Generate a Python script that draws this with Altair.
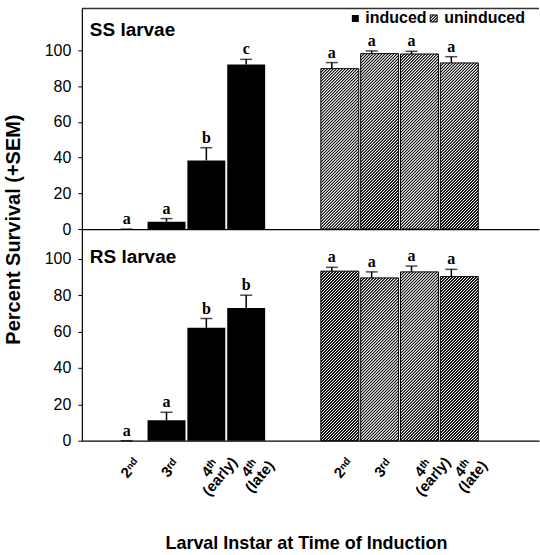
import math
import altair as alt
import pandas as pd

# ---------------- data ----------------
instars = ["2nd", "3rd", "4th (early)", "4th (late)"]
instar_tick_labels = ["2ⁿᵈ", "3ʳᵈ", "4ᵗʰ|(early)", "4ᵗʰ|(late)"]
groups = ["induced", "uninduced"]
panels = ["SS larvae", "RS larvae"]

ss_induced = [0.0, 4.1, 38.5, 92.2]
ss_induced_sem = [0.0, 1.8, 7.1, 2.9]
ss_induced_letters = ["a", "a", "b", "c"]
ss_uninduced = [89.9, 98.3, 98.1, 93.1]
ss_uninduced_sem = [3.4, 1.5, 1.5, 3.5]
ss_uninduced_letters = ["a", "a", "a", "a"]

rs_induced = [0.0, 11.2, 62.0, 72.9]
rs_induced_sem = [0.0, 4.4, 5.1, 7.0]
rs_induced_letters = ["a", "a", "b", "b"]
rs_uninduced = [93.1, 89.4, 92.7, 90.1]
rs_uninduced_sem = [2.1, 3.3, 3.2, 4.0]
rs_uninduced_letters = ["a", "a", "a", "a"]

y_ticks = [0, 20, 40, 60, 80, 100]

# ---------------- layout constants ----------------
W = 458
PANEL_DIMS = {"SS larvae": (221, 123.6), "RS larvae": (212, 116.2)}  # height px, y max
GROUP_GAP = 5.35
X_DOMAIN = [0, 11.225]
BAR_W = 38
HATCH_PERIOD = 3.0  # horizontal period of the diagonal hatch, px
DARK, LIGHT = "#141414", "#ffffff"


def hatch(w, h, period=HATCH_PERIOD):
    """45-degree '/' stripes as a linear gradient in bounding-box units (soft edges)."""
    pn = period / math.sqrt(2)
    n = max(1, math.ceil((w + h) / math.sqrt(2) / pn))
    L = n * pn
    c = L * math.sqrt(2) / (w * w + h * h)
    stops = []
    pattern = [(0.0, DARK), (0.45, DARK), (0.6, LIGHT), (0.85, LIGHT)]
    for k in range(n):
        for f, col in pattern:
            stops.append({"offset": (k + f) / n, "color": col})
    stops.append({"offset": 1.0, "color": DARK})
    return {"gradient": "linear", "x1": 0, "y1": 0, "x2": c * w, "y2": c * h, "stops": stops}


series = {
    ("SS larvae", "induced"): (ss_induced, ss_induced_sem, ss_induced_letters),
    ("SS larvae", "uninduced"): (ss_uninduced, ss_uninduced_sem, ss_uninduced_letters),
    ("RS larvae", "induced"): (rs_induced, rs_induced_sem, rs_induced_letters),
    ("RS larvae", "uninduced"): (rs_uninduced, rs_uninduced_sem, rs_uninduced_letters),
}

rows = []
positions = []
slot_labels = [""] * 12
for gi, g in enumerate(groups):
    for ii, ins in enumerate(instars):
        p = round(1 + ii + gi * GROUP_GAP, 2)
        positions.append(p)
        slot_labels[int(p)] = instar_tick_labels[ii]
for (pn_, g), (vals, sems, lets) in series.items():
    gi = groups.index(g)
    ph, pmax = PANEL_DIMS[pn_]
    for ii, ins in enumerate(instars):
        hpx = max(vals[ii] / pmax * ph, 1.0)
        rows.append({
            "panel": pn_, "group": g, "instar": ins,
            "pos": round(1 + ii + gi * GROUP_GAP, 2),
            "value": vals[ii], "sem": sems[ii],
            "top": round(vals[ii] + sems[ii], 2),
            "letter": lets[ii],
            "grad": hatch(BAR_W, hpx) if g == "uninduced" else "black",
        })
df = pd.DataFrame(rows)

legend_hatch = hatch(7, 7, 3.0)

label_arr = "[" + ",".join("'" + s + "'" for s in slot_labels) + "]"
label_expr = f"split({label_arr}[floor(datum.value + 0.01)], '|')"


def panel(name, top):
    height, ymax = PANEL_DIMS[name]
    d = df[df.panel == name]
    xs = alt.Scale(domain=X_DOMAIN, nice=False, zero=False)
    ys = alt.Scale(domain=[0, ymax], nice=False)
    if top:
        xaxis = alt.Axis(labels=False, ticks=False, title=None)
        yaxis = alt.Axis(values=y_ticks, tickSize=4, labelFontSize=16, labelPadding=7,
                         title="Percent Survival (+SEM)", titleFontSize=20, titleFontWeight="bold",
                         titleAngle=270, titleX=-62, titleY=221, titleAlign="center",
                         titleBaseline="alphabetic")
    else:
        xaxis = alt.Axis(values=positions, labelExpr=label_expr, labelAngle=-50,
                         labelAlign="center", labelBaseline="middle", labelPadding=27,
                         labelOffset=3, ticks=False, labelFontSize=15, labelFontWeight="bold",
                         labelLineHeight=13, labelFlush=False, labelOverlap=False,
                         title="Larval Instar at Time of Induction", titleFontSize=18,
                         titleFontWeight="bold", titleX=224.5, titleY=108,
                         titleAlign="center", titleBaseline="alphabetic")
        yaxis = alt.Axis(values=y_ticks, tickSize=4, labelFontSize=16, labelPadding=7, title=None)

    base = alt.Chart(d)
    X = alt.X("pos:Q", scale=xs, axis=xaxis)
    ind = base.transform_filter(alt.datum.group == "induced")
    un = base.transform_filter(alt.datum.group == "uninduced")

    bars_i = ind.mark_bar(size=BAR_W, color="black").encode(
        x=X, y=alt.Y("value:Q", scale=ys, axis=yaxis))
    bars_u = un.mark_bar(size=BAR_W, stroke="black", strokeWidth=1).encode(
        x=X, y=alt.Y("value:Q", scale=ys, axis=yaxis),
        fill=alt.Fill("grad:N", scale=None))

    layers = [bars_i, bars_u]
    for src, off in ((ind, 0), (un, -8)):
        layers.append(src.mark_rule(color="black", strokeWidth=1.5, xOffset=off).encode(
            x=X, y=alt.Y("value:Q", scale=ys), y2="top:Q"))
        layers.append(src.mark_tick(orient="horizontal", size=12, thickness=1.5,
                                    color="black", xOffset=off).encode(
            x=X, y=alt.Y("top:Q", scale=ys)))
        layers.append(src.mark_text(font="Liberation Serif", fontWeight="bold", fontSize=16,
                                    baseline="alphabetic", dy=-5, dx=off, color="black").encode(
            x=X, y=alt.Y("top:Q", scale=ys), text="letter:N"))

    lab = alt.Chart(pd.DataFrame({"label": [name]})).mark_text(
        font="Liberation Sans", fontWeight="bold", fontSize=19, align="left",
        baseline="alphabetic", color="black").encode(
        x=alt.value(8), y=alt.value(28 if top else 34), text="label:N")
    layers.append(lab)

    if top:
        frame = alt.Chart(pd.DataFrame({"k": [0]})).mark_rule(color="#333333", strokeWidth=1.5).encode(
            x=alt.value(0), x2=alt.value(W), y=alt.value(0))
        leg = pd.DataFrame({"group": groups})
        sq1 = alt.Chart(leg[leg.group == "induced"]).mark_rect(color="black").encode(
            x=alt.value(270.5), x2=alt.value(277.5), y=alt.value(6.5), y2=alt.value(13.5))
        sq2 = alt.Chart(leg[leg.group == "uninduced"]).mark_rect(
            fill=legend_hatch, stroke="black", strokeWidth=1).encode(
            x=alt.value(349), x2=alt.value(356), y=alt.value(6.5), y2=alt.value(13.5))
        t1 = alt.Chart(leg[leg.group == "induced"]).mark_text(
            font="Liberation Sans", fontWeight="bold", fontSize=16, align="left",
            baseline="alphabetic", color="black").encode(
            x=alt.value(284), y=alt.value(15), text="group:N")
        t2 = alt.Chart(leg[leg.group == "uninduced"]).mark_text(
            font="Liberation Sans", fontWeight="bold", fontSize=16, align="left",
            baseline="alphabetic", color="black").encode(
            x=alt.value(363), y=alt.value(15), text="group:N")
        layers += [frame, sq1, sq2, t1, t2]

    return alt.layer(*layers).properties(width=W, height=height)


top_panel = panel("SS larvae", True)
bot_panel = panel("RS larvae", False)

chart = alt.vconcat(top_panel, bot_panel, spacing=0, bounds="flush").configure_view(
    stroke=None
).configure_axis(
    grid=False, domainColor="black", tickColor="black", labelColor="black",
    titleColor="black", labelFont="Liberation Sans", titleFont="Liberation Sans",
    domainWidth=1.2,
).properties(
    padding={"left": 4, "top": 7, "right": 0, "bottom": 0},
    background="white",
)

chart.save("out.html", embed_options={"renderer": "svg", "actions": False})
